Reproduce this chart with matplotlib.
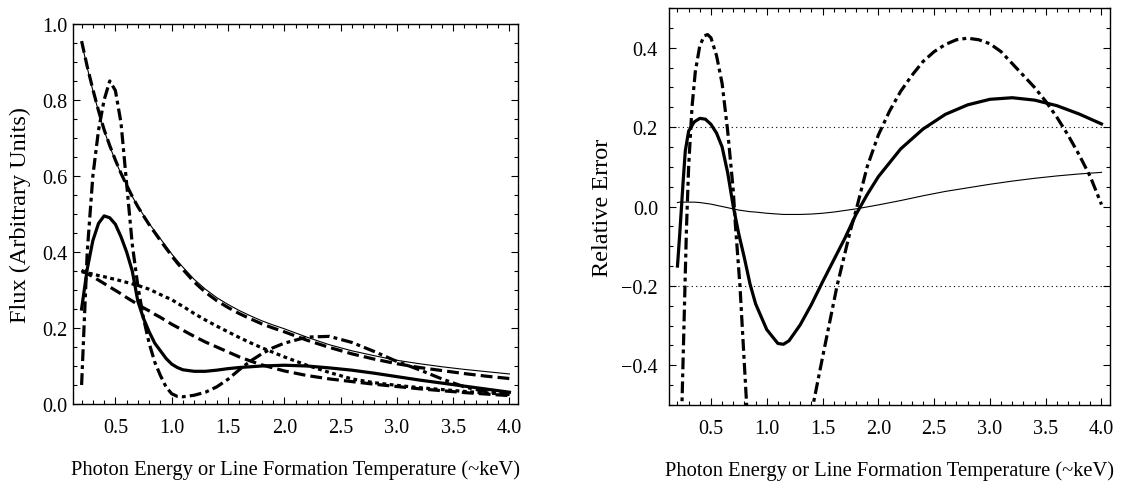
import numpy as np
import matplotlib
matplotlib.use('Agg')
import matplotlib.pyplot as plt
from matplotlib.ticker import MultipleLocator, FuncFormatter

plt.rcParams['font.family'] = 'Liberation Serif'
plt.rcParams['axes.unicode_minus'] = True

# ---- left panel: flux curves ----
x_l = [0.2, 0.25, 0.3, 0.35, 0.4, 0.45, 0.5, 0.55, 0.6, 0.65, 0.7, 0.75, 0.8, 0.85, 0.9,
       0.95, 1.0, 1.05, 1.1, 1.2, 1.3, 1.4, 1.5, 1.6, 1.7, 1.8, 1.9, 2.0, 2.2, 2.4, 2.6,
       2.8, 3.0, 3.2, 3.4, 3.6, 3.8, 4.0]

flux_true = [0.952, 0.885, 0.825, 0.77, 0.72, 0.678, 0.64, 0.606, 0.575, 0.546, 0.52, 0.497,
             0.475, 0.455, 0.435, 0.415, 0.395, 0.377, 0.36, 0.328, 0.302, 0.28, 0.262, 0.246,
             0.232, 0.219, 0.208, 0.198, 0.176, 0.156, 0.14, 0.127, 0.115, 0.106, 0.098,
             0.091, 0.085, 0.079]
flux_dash_hi = [0.955, 0.888, 0.828, 0.772, 0.722, 0.68, 0.642, 0.607, 0.576, 0.546, 0.519,
                0.495, 0.472, 0.451, 0.43, 0.41, 0.39, 0.371, 0.354, 0.321, 0.294, 0.272,
                0.254, 0.238, 0.224, 0.211, 0.2, 0.19, 0.168, 0.149, 0.132, 0.118, 0.106,
                0.096, 0.088, 0.08, 0.073, 0.067]
flux_solid = [0.25, 0.355, 0.43, 0.475, 0.495, 0.49, 0.473, 0.44, 0.4, 0.35, 0.27, 0.225,
              0.19, 0.16, 0.14, 0.12, 0.105, 0.096, 0.09, 0.086, 0.086, 0.089, 0.093, 0.096,
              0.098, 0.1, 0.101, 0.102, 0.1, 0.095, 0.089, 0.081, 0.072, 0.063, 0.055, 0.047,
              0.039, 0.031]
flux_dashdot = [0.05, 0.4, 0.6, 0.72, 0.8, 0.85, 0.825, 0.74, 0.58, 0.42, 0.31, 0.225, 0.16,
                0.11, 0.075, 0.045, 0.027, 0.02, 0.019, 0.023, 0.031, 0.045, 0.065, 0.09,
                0.113, 0.132, 0.148, 0.16, 0.176, 0.178, 0.162, 0.138, 0.112, 0.09, 0.066,
                0.045, 0.032, 0.026]
flux_dotted = [0.348, 0.345, 0.342, 0.338, 0.335, 0.331, 0.328, 0.324, 0.32, 0.316, 0.312,
               0.307, 0.302, 0.295, 0.288, 0.281, 0.275, 0.265, 0.257, 0.238, 0.221, 0.205,
               0.19, 0.175, 0.161, 0.148, 0.136, 0.124, 0.102, 0.083, 0.066, 0.056, 0.049,
               0.043, 0.038, 0.033, 0.029, 0.025]
flux_dash_lo = [0.352, 0.343, 0.335, 0.326, 0.317, 0.308, 0.299, 0.29, 0.28, 0.271, 0.262,
                0.253, 0.245, 0.236, 0.228, 0.219, 0.21, 0.202, 0.194, 0.178, 0.163, 0.15,
                0.137, 0.124, 0.113, 0.103, 0.095, 0.087, 0.075, 0.066, 0.059, 0.052, 0.046,
                0.04, 0.035, 0.03, 0.026, 0.022]

# ---- right panel: relative errors ----
x_r = [0.2, 0.22, 0.25, 0.27, 0.3, 0.35, 0.4, 0.45, 0.5, 0.55, 0.6, 0.65, 0.7, 0.75, 0.8,
       0.85, 0.9, 1.0, 1.1, 1.15, 1.2, 1.3, 1.4, 1.5, 1.6, 1.7, 1.8, 1.9, 2.0, 2.2, 2.4,
       2.6, 2.8, 3.0, 3.2, 3.4, 3.6, 3.8, 4.0]
err_thin = [0.01, 0.011, 0.011, 0.011, 0.011, 0.011, 0.01, 0.008, 0.006, 0.003, 0.0, -0.003,
            -0.006, -0.009, -0.011, -0.013, -0.014, -0.017, -0.019, -0.02, -0.02, -0.02,
            -0.019, -0.017, -0.014, -0.01, -0.006, -0.001, 0.004, 0.015, 0.027, 0.038, 0.047,
            0.056, 0.064, 0.071, 0.077, 0.082, 0.086]
err_solid = [-0.15, -0.07, 0.06, 0.14, 0.19, 0.213, 0.222, 0.22, 0.207, 0.185, 0.15, 0.085,
             0.0, -0.07, -0.13, -0.195, -0.245, -0.31, -0.345, -0.347, -0.338, -0.298,
             -0.247, -0.19, -0.135, -0.08, -0.02, 0.03, 0.075, 0.145, 0.195, 0.232, 0.256,
             0.27, 0.274, 0.268, 0.254, 0.233, 0.208]

x_dd = [0.2, 0.24, 0.26, 0.28, 0.3, 0.33, 0.36, 0.4, 0.44, 0.47, 0.5, 0.55, 0.6, 0.65, 0.7,
        0.72, 0.76, 0.8, 0.82, 0.9, 1.1, 1.3, 1.415, 1.5, 1.63, 1.75, 1.8, 1.9, 2.0, 2.1,
        2.2, 2.3, 2.4, 2.5, 2.6, 2.7, 2.8, 2.9, 3.0, 3.1, 3.2, 3.3, 3.4, 3.5, 3.6, 3.7, 3.8,
        3.9, 4.0]
err_dashdot = [-0.8, -0.5, -0.28, -0.06, 0.1, 0.25, 0.34, 0.405, 0.43, 0.433, 0.425, 0.38,
               0.31, 0.19, 0.04, -0.05, -0.2, -0.4, -0.5, -0.8, -1.0, -0.8, -0.5, -0.38,
               -0.2, -0.06, -0.01, 0.1, 0.18, 0.24, 0.29, 0.33, 0.365, 0.39, 0.408, 0.42,
               0.424, 0.42, 0.41, 0.39, 0.36, 0.33, 0.3, 0.265, 0.225, 0.18, 0.13, 0.075,
               0.005]
ref_levels = [0.2, -0.2]

xticks = [0.5, 1.0, 1.5, 2.0, 2.5, 3.0, 3.5, 4.0]
xlabel = 'Photon Energy or Line Formation Temperature (~keV)'

fig = plt.figure(figsize=(11.43, 4.89), dpi=100)
ax1 = fig.add_axes([0.0639, 0.1718, 0.3893, 0.7771])
ax2 = fig.add_axes([0.5853, 0.1697, 0.3858, 0.8119])

thick = 2.3
dash = (0, (3.7, 1.6))
dashdot = (0, (3.7, 1.3, 1.2, 1.3))
dotted = (0, (1.2, 1.1))

ax1.plot(x_l, flux_true, color='black', lw=0.8)
ax1.plot(x_l, flux_dash_hi, color='black', lw=thick, linestyle=dash)
ax1.plot(x_l, flux_solid, color='black', lw=thick)
ax1.plot(x_l, flux_dashdot, color='black', lw=thick, linestyle=dashdot)
ax1.plot(x_l, flux_dotted, color='black', lw=thick, linestyle=dotted)
ax1.plot(x_l, flux_dash_lo, color='black', lw=thick, linestyle=dash)
ax1.set_xlim(0.124, 4.076)
ax1.set_ylim(0.0, 1.0)
ax1.set_ylabel('Flux (Arbitrary Units)', fontsize=17.5, labelpad=8)

for lev in ref_levels:
    ax2.axhline(lev, color='black', lw=0.8, linestyle=(0, (1, 3)))
ax2.plot(x_r, err_thin, color='black', lw=0.8)
ax2.plot(x_r, err_solid, color='black', lw=thick)
ax2.plot(x_dd, err_dashdot, color='black', lw=thick, linestyle=dashdot)
ax2.set_xlim(0.124, 4.076)
ax2.set_ylim(-0.5, 0.5)
ax2.set_ylabel('Relative Error', fontsize=17.5, labelpad=6)

fmt = FuncFormatter(lambda v, pos: f'{v:.1f}'.replace('-', '\u2212'))

for ax, ypad in [(ax1, 4), (ax2, 8)]:
    ax.set_xticks(xticks)
    ax.xaxis.set_minor_locator(MultipleLocator(0.1))
    ax.yaxis.set_major_locator(MultipleLocator(0.2))
    ax.yaxis.set_minor_locator(MultipleLocator(0.05))
    ax.xaxis.set_major_formatter(fmt)
    ax.yaxis.set_major_formatter(fmt)
    ax.set_xlabel(xlabel, fontsize=14.8, labelpad=16)
    ax.tick_params(which='both', direction='in', top=True, right=True, width=0.8)
    ax.tick_params(which='major', length=5)
    ax.tick_params(which='minor', length=3)
    ax.tick_params(axis='x', which='major', labelsize=14.5, pad=10)
    ax.tick_params(axis='y', which='major', labelsize=14.5, pad=ypad)
    for s in ax.spines.values():
        s.set_linewidth(1.0)

fig.savefig('out.png', dpi=100)
